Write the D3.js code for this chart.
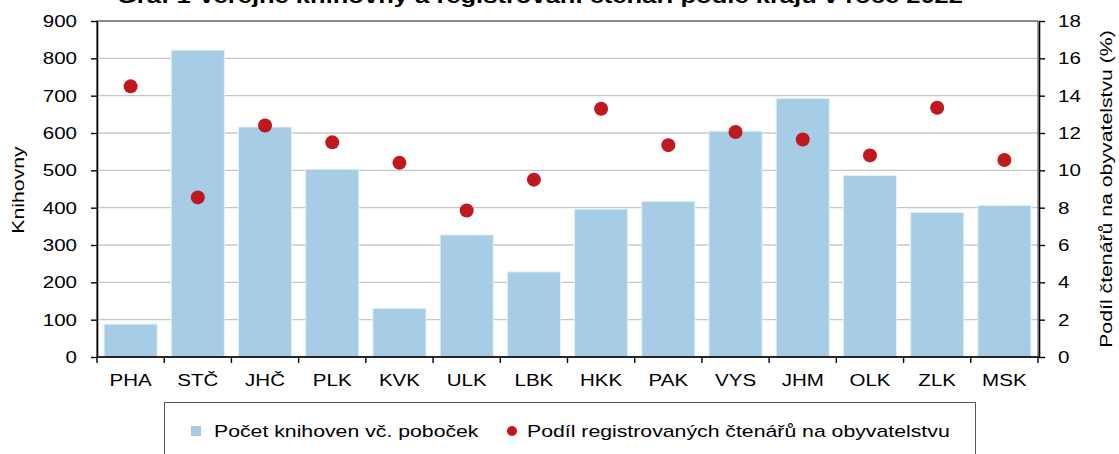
<!DOCTYPE html>
<html><head><meta charset="utf-8">
<script src="https://cdn.jsdelivr.net/npm/d3@7"></script>
<style>
body{margin:0;background:#fff}
svg text{font-family:"Liberation Sans",Arial,sans-serif;fill:#000}
</style>
</head><body>
<svg id="c" width="1119" height="454"></svg>
<script>
const categories = ["PHA","STČ","JHČ","PLK","KVK","ULK","LBK","HKK","PAK","VYS","JHM","OLK","ZLK","MSK"];
const libraries = [88,822,616,503,130,327,228,396,417,605,693,486,387,406];
const readersShare = [14.5,8.55,12.4,11.5,10.4,7.85,9.5,13.3,11.35,12.05,11.65,10.8,13.35,10.55];
const leftTicks = [0,100,200,300,400,500,600,700,800,900];
const rightTicks = [0,2,4,6,8,10,12,14,16,18];
const seriesNames = ["Počet knihoven vč. poboček","Podíl registrovaných čtenářů na obyvatelstvu"];
const axisTitles = ["Knihovny","Podíl čtenářů na obyvatelstvu (%)"];
const chartTitle = "Graf 1 Veřejné knihovny a registrovaní čtenáři podle krajů v roce 2022";

const W = 1119, H = 454;
const L = 97, R = 1038, T = 21, B = 357;
const SX = 1.21, SX2 = 1.25;
const barColor = "#a6cce6", dotColor = "#c0181f";

const svg = d3.select("#c");
const x = d3.scaleBand().domain(categories).range([L, R]).paddingInner(0.21).paddingOuter(0.105);
const yL = d3.scaleLinear().domain([0, 900]).range([B, T]);
const yR = d3.scaleLinear().domain([0, 18]).range([B, T]);

// gridlines
svg.append("g").selectAll("line").data(leftTicks.filter(d => d > 0)).join("line")
  .attr("x1", L).attr("x2", R).attr("y1", d => yL(d)).attr("y2", d => yL(d))
  .attr("stroke", "#c8c8c8").attr("stroke-width", 1.3);

// bars
svg.append("g").selectAll("rect").data(categories).join("rect")
  .attr("x", d => x(d)).attr("width", x.bandwidth())
  .attr("y", (d, i) => yL(libraries[i])).attr("height", (d, i) => B - yL(libraries[i]))
  .attr("fill", barColor).attr("stroke", "#e3f0f9").attr("stroke-width", 1);

// plot border
svg.append("rect").attr("x", L).attr("y", T).attr("width", R - L).attr("height", B - T)
  .attr("fill", "none").attr("stroke", "#404040").attr("stroke-width", 1);

// dots
svg.append("g").selectAll("circle").data(categories).join("circle")
  .attr("cx", d => x(d) + x.bandwidth() / 2).attr("cy", (d, i) => yR(readersShare[i]))
  .attr("r", 7).attr("fill", dotColor);

// left axis
const gl = svg.append("g").attr("transform", `translate(${L},0)`)
  .call(d3.axisLeft(yL).tickValues(leftTicks).tickSize(6).tickSizeOuter(0));
gl.select(".domain").attr("stroke", "#000").attr("stroke-width", 1.6);
gl.selectAll(".tick line").attr("stroke", "#000").attr("stroke-width", 1.4);
gl.selectAll(".tick text").attr("x", -20 / SX).attr("font-size", 17)
  .attr("font-family", "Liberation Sans, Arial, sans-serif").attr("fill", "#000")
  .attr("transform", `scale(${SX},1)`);

// right axis
const gr = svg.append("g").attr("transform", `translate(${R + 1},0)`)
  .call(d3.axisRight(yR).tickValues(rightTicks).tickSize(6).tickSizeOuter(0));
gr.select(".domain").attr("stroke", "#000").attr("stroke-width", 1.6);
gr.selectAll(".tick line").attr("stroke", "#000").attr("stroke-width", 1.4);
gr.selectAll(".tick text").attr("x", 19 / SX).attr("font-size", 17)
  .attr("font-family", "Liberation Sans, Arial, sans-serif").attr("fill", "#000")
  .attr("transform", `scale(${SX},1)`);

// bottom axis
const gb = svg.append("g").attr("transform", `translate(0,${B})`);
gb.append("line").attr("x1", L).attr("x2", R + 1).attr("y1", 0).attr("y2", 0)
  .attr("stroke", "#000").attr("stroke-width", 1.6);
gb.selectAll("line.t").data(d3.range(categories.length + 1)).join("line").attr("class", "t")
  .attr("x1", i => L + i * x.step()).attr("x2", i => L + i * x.step())
  .attr("y1", 0).attr("y2", 6).attr("stroke", "#000").attr("stroke-width", 1.4);
gb.selectAll("g.lab").data(categories).join("g").attr("class", "lab")
  .attr("transform", d => `translate(${x(d) + x.bandwidth() / 2},28.5)`)
  .append("text").attr("text-anchor", "middle").attr("font-size", 17)
  .attr("transform", `scale(${SX},1)`).text(d => d);

// axis titles
svg.append("g").attr("transform", "translate(24,190) rotate(-90)")
  .append("text").attr("text-anchor", "middle").attr("font-size", 17)
  .attr("transform", `scale(${SX2},1)`).text(axisTitles[0]);
svg.append("g").attr("transform", "translate(1112,189) rotate(-90)")
  .append("text").attr("text-anchor", "middle").attr("font-size", 17)
  .attr("transform", `scale(${SX2},1)`).text(axisTitles[1]);

// title (clipped at top)
svg.append("text").attr("x", 117).attr("y", 2.5).attr("font-size", 21).attr("font-weight", "bold")
  .attr("textLength", 846).attr("lengthAdjust", "spacingAndGlyphs").text(chartTitle);

// legend
const lg = svg.append("g");
lg.append("rect").attr("x", 164.5).attr("y", 402.5).attr("width", 811).attr("height", 70)
  .attr("fill", "#fff").attr("stroke", "#555").attr("stroke-width", 1);
lg.append("rect").attr("x", 191).attr("y", 426).attr("width", 10).attr("height", 10).attr("fill", barColor);
lg.append("g").attr("transform", "translate(214,437)").append("text")
  .attr("font-size", 17).attr("transform", `scale(${SX2},1)`).text(seriesNames[0]);
lg.append("circle").attr("cx", 512).attr("cy", 431).attr("r", 5).attr("fill", dotColor);
lg.append("g").attr("transform", "translate(527,437)").append("text")
  .attr("font-size", 17).attr("transform", `scale(${SX2},1)`).text(seriesNames[1]);
</script>
</body></html>
